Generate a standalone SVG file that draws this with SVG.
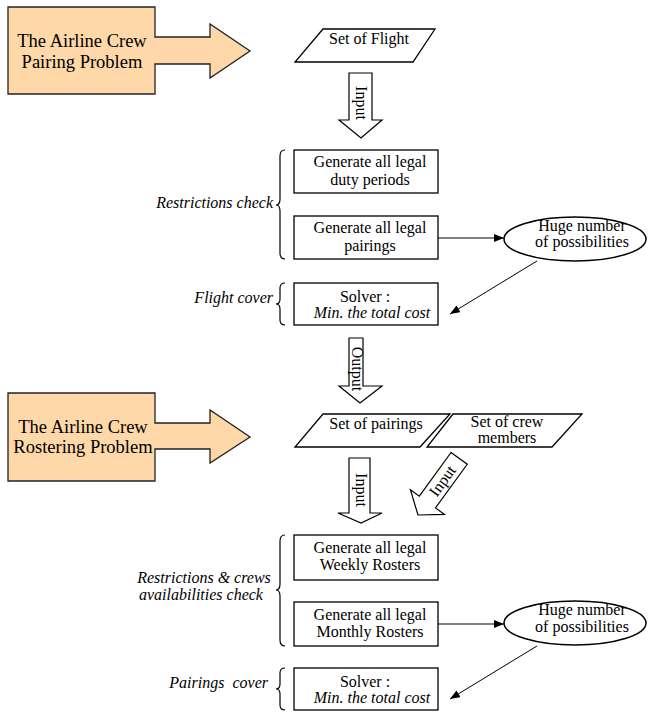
<svg xmlns="http://www.w3.org/2000/svg" width="656" height="714" viewBox="0 0 656 714">
<style>
text{font-family:"Liberation Serif","Times New Roman",serif;font-size:16px;fill:#000}
.big{font-size:18.5px}
.it{font-style:italic}
.box{fill:#fff;stroke:#000;stroke-width:1.3}
.ell{fill:#fff;stroke:#000;stroke-width:1.5}
.org{fill:#FED8A8;stroke:#222;stroke-width:1.3}
.brace{fill:none;stroke:#000;stroke-width:1.2}
.conn{fill:none;stroke:#000;stroke-width:1}
.fat{fill:#fff;stroke:#000;stroke-width:1.2}
</style>
<defs>
<marker id="ah" viewBox="0 0 10 8" refX="10" refY="4" markerWidth="10" markerHeight="8" markerUnits="userSpaceOnUse" orient="auto">
<path d="M0,0 L10,4 L0,8 Z" fill="#000"/>
</marker>
</defs>
<rect width="656" height="714" fill="#fff"/>

<g id="pairing-problem">
<path class="org" d="M8,7 H155 V37 H210 V24 L250,51 L210,78 V64 H155 V94 H8 Z"/>
<text class="big" x="82" y="47" text-anchor="middle">The Airline Crew</text>
<text class="big" x="82" y="68" text-anchor="middle">Pairing Problem</text>
</g>

<g id="set-of-flight">
<path class="box" d="M323,29 H435 L413,62 H295 Z"/>
<text x="369" y="44" text-anchor="middle">Set of Flight</text>
</g>

<g id="input-arrow-1">
<path class="fat" d="M349,73 H372 V120 H382 L361,138 L339,120 H349 Z"/>
<text transform="translate(360,103) rotate(90)" y="4" text-anchor="middle">Input</text>
</g>

<g id="restrictions-check">
<path class="brace" d="M285,150 Q280,150 280,156 V199 Q280,205 276,205 Q280,205 280,211 V253 Q280,259 285,259"/>
<text class="it" x="273" y="208" text-anchor="end">Restrictions check</text>
</g>

<g id="duty-periods">
<rect class="box" x="294" y="150" width="144" height="43"/>
<text x="370" y="167" text-anchor="middle">Generate all legal</text>
<text x="370" y="185" text-anchor="middle">duty periods</text>
</g>

<g id="pairings">
<rect class="box" x="294" y="216" width="144" height="43"/>
<text x="370" y="233" text-anchor="middle">Generate all legal</text>
<text x="370" y="251" text-anchor="middle">pairings</text>
</g>

<g id="huge-1">
<ellipse class="ell" cx="575" cy="239" rx="71" ry="22"/>
<text x="582" y="231" text-anchor="middle">Huge number</text>
<text x="582" y="247" text-anchor="middle">of possibilities</text>
</g>

<g id="flight-cover">
<path class="brace" d="M285,283 Q280,283 280,288 V299 Q280,304 276,304 Q280,304 280,309 V320 Q280,325 285,325"/>
<text class="it" x="273" y="303" text-anchor="end">Flight cover</text>
</g>

<g id="solver-1">
<rect class="box" x="294" y="283" width="144" height="42"/>
<text x="365" y="302" text-anchor="middle">Solver :</text>
<text class="it" x="372" y="318" text-anchor="middle">Min. the total cost</text>
</g>

<g id="output-arrow">
<path class="fat" d="M349,338 H363 V386 H382 L360,403 L339,386 H349 Z"/>
<text transform="translate(356,369) rotate(90)" y="4" text-anchor="middle">Output</text>
</g>

<g id="rostering-problem">
<path class="org" d="M8,393 H155 V423 H210 V410 L250,437 L210,463 V449 H155 V481 H8 Z"/>
<text class="big" x="83" y="433" text-anchor="middle">The Airline Crew</text>
<text class="big" x="83" y="453" text-anchor="middle">Rostering Problem</text>
</g>

<g id="set-of-pairings">
<path class="box" d="M323,414 H450 L420,447 H295 Z"/>
<text x="376" y="429" text-anchor="middle">Set of pairings</text>
</g>

<g id="set-of-crew">
<path class="box" d="M453,414 H582 L552,447 H427 Z"/>
<text x="507" y="427" text-anchor="middle">Set of crew</text>
<text x="507" y="443" text-anchor="middle">members</text>
</g>

<g id="input-arrow-2">
<path class="fat" d="M349,458 H370 V513 H382 L361,523 L338,513 H349 Z"/>
<text transform="translate(360,490) rotate(90)" y="4" text-anchor="middle">Input</text>
</g>

<g id="input-arrow-3" transform="translate(418,515) rotate(36)">
<path class="fat" d="M-10,-70 H10 V-16 H21 L0,0 L-21,-16 H-10 Z"/>
<text transform="translate(0,-42) rotate(-90)" y="5" text-anchor="middle">Input</text>
</g>

<g id="restrictions-crews">
<path class="brace" d="M285,535 Q280,535 280,541 V584 Q280,590 276,590 Q280,590 280,596 V640 Q280,646 285,646"/>
<text class="it" x="204" y="583" text-anchor="middle">Restrictions &amp; crews</text>
<text class="it" x="201" y="600" text-anchor="middle">availabilities check</text>
</g>

<g id="weekly">
<rect class="box" x="294" y="535" width="144" height="45"/>
<text x="370" y="553" text-anchor="middle">Generate all legal</text>
<text x="370" y="570" text-anchor="middle">Weekly Rosters</text>
</g>

<g id="monthly">
<rect class="box" x="294" y="602" width="144" height="44"/>
<text x="370" y="620" text-anchor="middle">Generate all legal</text>
<text x="370" y="637" text-anchor="middle">Monthly Rosters</text>
</g>

<g id="huge-2">
<ellipse class="ell" cx="575" cy="623" rx="71" ry="22"/>
<text x="582" y="615" text-anchor="middle">Huge number</text>
<text x="582" y="632" text-anchor="middle">of possibilities</text>
</g>

<g id="pairings-cover">
<path class="brace" d="M285,668 Q280,668 280,673 V684 Q280,689 276,689 Q280,689 280,694 V705 Q280,710 285,710"/>
<text class="it" x="268" y="688" text-anchor="end">Pairings&#160; cover</text>
</g>

<g id="solver-2">
<rect class="box" x="294" y="668" width="144" height="42"/>
<text x="365" y="687" text-anchor="middle">Solver :</text>
<text class="it" x="372" y="703" text-anchor="middle">Min. the total cost</text>
</g>

<g id="connectors">
<line class="conn" x1="438" y1="238" x2="504" y2="238" marker-end="url(#ah)"/>
<line class="conn" x1="537" y1="261" x2="450" y2="314" marker-end="url(#ah)"/>
<line class="conn" x1="438" y1="624" x2="504" y2="624" marker-end="url(#ah)"/>
<line class="conn" x1="537" y1="646" x2="450" y2="699" marker-end="url(#ah)"/>
</g>
</svg>
